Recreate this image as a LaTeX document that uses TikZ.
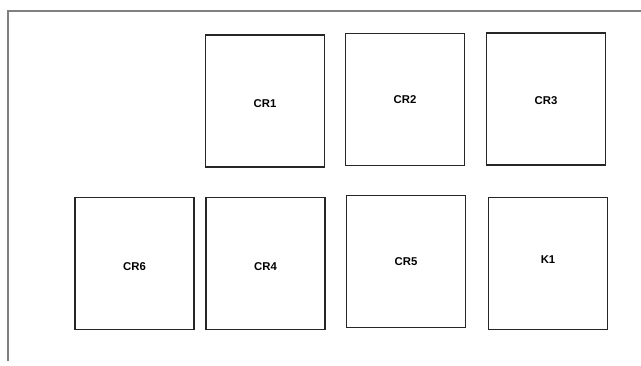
\documentclass[tikz,border=0pt]{standalone}
\usepackage{fontspec}
\setmainfont{Liberation Sans}
\begin{document}
\begin{tikzpicture}[x=0.75pt,y=-0.75pt,
  lbl/.style={font=\bfseries\fontsize{8.5}{10}\selectfont},
  relay/.style={draw=black!85,line width=0.8pt,minimum width=119*0.75pt,minimum height=132*0.75pt,inner sep=0pt,
    label={[lbl,yshift=#1]center:\relaytext}},
  frame/.style={draw=black!50,line width=1pt}]
\useasboundingbox (0,0) rectangle (641,365);
\coordinate (tl) at (8,11);
\coordinate (tr) at (641,11);
\coordinate (bl) at (8,361);
\draw[frame] (tr) -- (tl) -- (bl);
\def\relaytext{CR1}\node[relay=-2.3pt] (cr1) at (265,101) {};
\def\relaytext{CR2}\node[relay=0pt] (cr2) at (405,99.5) {};
\def\relaytext{CR3}\node[relay=-1.5pt] (cr3) at (546,99) {};
\def\relaytext{CR6}\node[relay=-2.6pt] (cr6) at (134.5,263.5) {};
\def\relaytext{CR4}\node[relay=-2.6pt] (cr4) at (265.5,263.5) {};
\def\relaytext{CR5}\node[relay=0pt] (cr5) at (406,261.5) {};
\def\relaytext{K1}\node[relay=3pt] (k1) at (548,263.5) {};
\end{tikzpicture}
\end{document}
